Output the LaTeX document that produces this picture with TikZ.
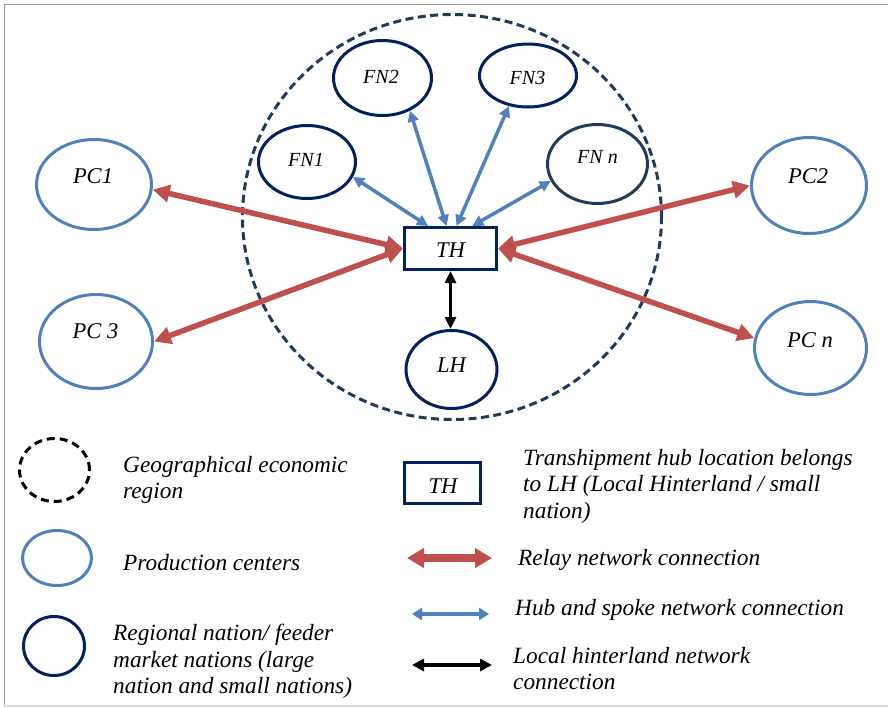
\documentclass[tikz,border=0pt]{standalone}
\usepackage{fontspec}
\setmainfont{Liberation Serif}
\usetikzlibrary{arrows.meta,shapes.geometric}
\definecolor{pcblue}{HTML}{4F81BD}
\definecolor{navy}{RGB}{0,32,96}
\definecolor{slate}{HTML}{1F3A5C}
\definecolor{relayred}{HTML}{C0504D}
\tikzset{
  pc/.style={ellipse,draw=pcblue,line width=3pt,inner sep=0pt},
  fn/.style={ellipse,draw=navy,line width=3pt,inner sep=0pt},
  hubbox/.style={rectangle,draw=navy,line width=3pt,inner sep=0pt},
  lbl/.style={font=\fontsize{22.5}{26}\selectfont\itshape,inner sep=0pt,anchor=base},
  fnlbl/.style={font=\fontsize{20}{22}\selectfont\itshape,inner sep=0pt,anchor=base},
  legtxt/.style={font=\fontsize{23.3}{26.5}\selectfont\itshape,inner sep=0pt,align=left},
  relay/.style={draw=relayred,line width=5.5pt,{Triangle[length=17pt,width=17pt]}-{Triangle[length=17pt,width=17pt]},fill=relayred},
  spoke/.style={draw=pcblue,line width=3.5pt,{Triangle[length=11pt,width=11pt]}-{Triangle[length=11pt,width=11pt]},fill=pcblue},
  local/.style={draw=black,line width=3.5pt,{Triangle[length=12pt,width=11pt]}-{Triangle[length=12pt,width=11pt]}},
  region/.style={ellipse,draw=slate,line width=3pt,dash pattern=on 8pt off 4.5pt,inner sep=0pt},
}
\begin{document}
\begin{tikzpicture}[x=1pt,y=-1pt]
\useasboundingbox (0,0) rectangle (888,707);
% frame
\draw[gray!80,line width=1pt] (4,707) -- (4,4) -- (888,4);
\draw[gray!30,line width=1.5pt] (4,706) -- (888,706);

% region
\node[region,minimum width=419pt,minimum height=405pt] (R) at (452,217) {};

% production centers
\node[pc,minimum width=115pt,minimum height=90pt] (PC1) at (94,184.5) {};
\node[pc,minimum width=113pt,minimum height=94pt] (PC3) at (96,341.5) {};
\node[pc,minimum width=115pt,minimum height=96pt] (PC2) at (809,185.5) {};
\node[pc,minimum width=112pt,minimum height=93pt] (PCn) at (810.5,348) {};
\node[lbl] (PC1t) at (93,183) {PC1};
\node[lbl] (PC3t) at (95.5,338) {PC 3};
\node[lbl] (PC2t) at (808,183) {PC2};
\node[lbl] (PCnt) at (810,347) {PC \textit{n}};

% feeder nations
\node[fn,minimum width=97pt,minimum height=73pt] (FN1) at (307,162) {};
\node[fn,minimum width=98pt,minimum height=75pt] (FN2) at (382.5,78) {};
\node[fn,minimum width=97pt,minimum height=63pt] (FN3) at (528,75.5) {};
\node[fn,draw=slate,minimum width=100pt,minimum height=79pt] (FNn) at (597.5,164) {};
\node[fnlbl] (FN1t) at (306,166) {FN1};
\node[fnlbl] (FN2t) at (381,83) {FN2};
\node[fnlbl] (FN3t) at (527.5,84) {FN3};
\node[fnlbl] (FNnt) at (597.5,163) {FN \textit{n}};

% hub and local hinterland
\node[hubbox,minimum width=92pt,minimum height=42pt] (TH) at (450.5,248.5) {};
\node[lbl] (THt) at (450.5,257) {TH};
\node[fn,minimum width=91pt,minimum height=78pt] (LH) at (451.5,369.5) {};
\node[lbl] (LHt) at (451.5,372) {LH};

% relay connections
\draw[relay] (PC1.-5) -- (TH.west);
\draw[relay] (PC3.east) -- (TH.west);
\draw[relay] (PC2.west) -- (TH.east);
\draw[relay] (PCn.170) -- (TH.east);

% hub and spoke connections
\draw[spoke] (FN1.-18) -- (TH.135);
\draw[spoke] (FN2.-50) -- (TH.100);
\draw[spoke] (FN3.238) -- (TH.75);
\draw[spoke] (FNn.200) -- (TH.46);

% local
\draw[local] (TH.south) -- (TH.south |- LH.north);

% ---------- legend ----------
\node[ellipse,draw=black,line width=3pt,dash pattern=on 8pt off 5pt,inner sep=0pt,minimum width=70pt,minimum height=63pt] (Lreg) at (54.5,470) {};
\node[legtxt,anchor=north west] (Lregt) at (123,456) {Geographical economic\\region};

\node[pc,minimum width=69pt,minimum height=55pt] (Lpc) at (57,558) {};
\node[legtxt,anchor=base west] (Lpct) at (123,570) {Production centers};

\node[fn,minimum width=61pt,minimum height=59pt] (Lfn) at (54,646) {};
\node[legtxt,anchor=north west] (Lfnt) at (113,624) {Regional nation/ feeder\\market nations (large\\nation and small nations)};

\node[hubbox,minimum width=76pt,minimum height=41pt] (Lth) at (442.5,483) {};
\node[lbl] (Ltht) at (443,493) {TH};
\node[legtxt,anchor=north west] (Ltht2) at (523,449) {Transhipment hub location belongs\\to LH (Local Hinterland / small\\nation)};

\coordinate (Lr1) at (407,558);
\coordinate (Lr2) at (492,558);
\draw[relayred,line width=8pt,{Triangle[length=17pt,width=19pt]}-{Triangle[length=17pt,width=19pt]}] (Lr1) -- (Lr2);
\node[legtxt,anchor=base west] (Lrt) at (518,565) {Relay network connection};

\coordinate (Lb1) at (412,614);
\coordinate (Lb2) at (489,614);
\draw[pcblue,line width=4pt,{Triangle[length=10pt,width=12pt]}-{Triangle[length=10pt,width=12pt]}] (Lb1) -- (Lb2);
\node[legtxt,anchor=base west] (Lbt) at (515,615) {Hub and spoke network connection};

\coordinate (Lk1) at (412,665);
\coordinate (Lk2) at (492,665);
\draw[black,line width=4pt,{Triangle[length=12pt,width=12pt]}-{Triangle[length=12pt,width=12pt]}] (Lk1) -- (Lk2);
\node[legtxt,anchor=north west] (Lkt) at (513,647) {Local hinterland network\\connection};
\end{tikzpicture}
\end{document}
